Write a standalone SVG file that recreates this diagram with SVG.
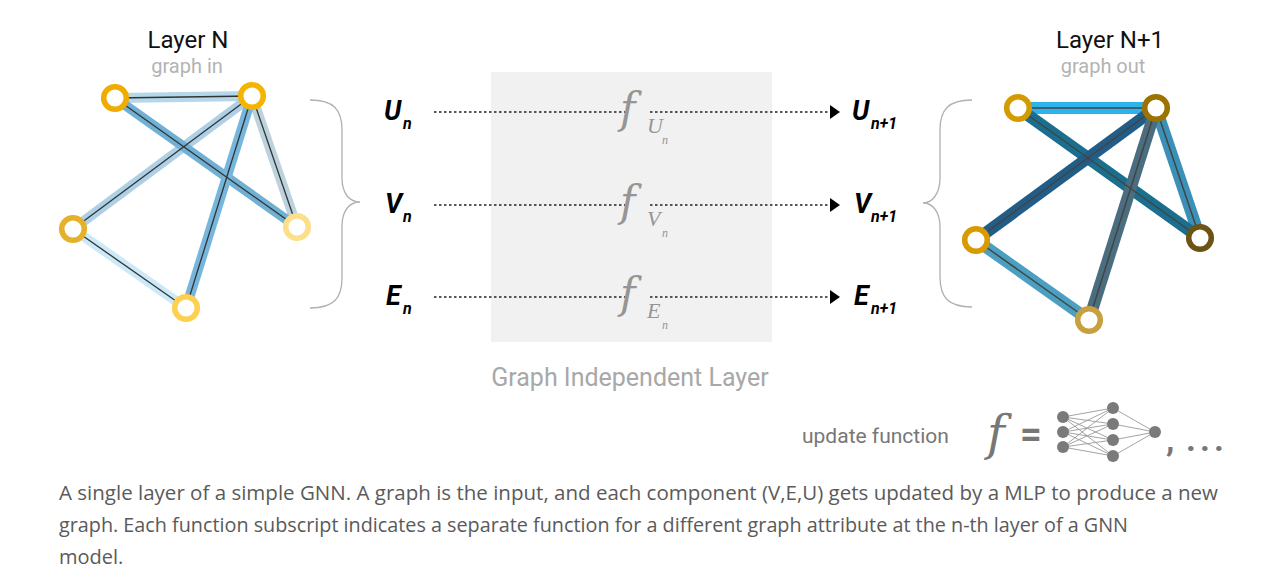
<svg xmlns="http://www.w3.org/2000/svg" width="1273" height="576" viewBox="0 0 1273 576">
<defs>
<style>
.title{font-family:Roboto,"Liberation Sans",sans-serif;font-size:24px;fill:#111}
.sub{font-family:Roboto,"Liberation Sans",sans-serif;font-size:20px;fill:#b3b3b3}
.var{font-family:Roboto,"Liberation Sans",sans-serif;font-size:27px;font-weight:bold;font-style:italic;fill:#000}
.vs{font-family:Roboto,"Liberation Sans",sans-serif;font-size:16px;font-weight:bold;font-style:italic;fill:#000}
.fn{font-family:"DejaVu Serif",serif;font-style:italic;font-size:42px;fill:#959595}
.fs{font-family:"Liberation Serif",serif;font-style:italic;font-size:22px;fill:#959595}
.fss{font-family:"Liberation Serif",serif;font-style:italic;font-size:12px;fill:#959595}
.gray{font-family:Roboto,"Liberation Sans",sans-serif;font-size:25px;fill:#a8a8a8}
.upd{font-family:Roboto,"Liberation Sans",sans-serif;font-size:21px;fill:#777}
.cap{font-family:"Open Sans","Liberation Sans",sans-serif;font-size:20px;fill:#5a5a5a}
.brace{fill:none;stroke:#b0b0b0;stroke-width:1.3}
.dot{fill:none;stroke:#222;stroke-width:1.4;stroke-dasharray:2.5 2.5}
.core{stroke:#333;stroke-width:1.3;fill:none}
.coreR{stroke:#444;stroke-width:1.5;fill:none}
.band{stroke-width:10;fill:none}
.bandR{stroke-width:12;fill:none}
.node{fill:#fff;stroke-width:5.5}
.nn{fill:#7a7a7a}
.nnl{stroke:#9a9a9a;stroke-width:0.9}
</style>
<marker id="arr" viewBox="0 0 10 14" refX="10" refY="7" markerWidth="10" markerHeight="14" markerUnits="userSpaceOnUse" orient="auto">
<path d="M0,0 L10,7 L0,14 Z" fill="#000"/>
</marker>
</defs>

<rect x="491" y="72" width="281" height="270" fill="#f1f1f1"/>

<text class="title" x="188" y="48" text-anchor="middle">Layer N</text>
<text class="sub" x="187" y="73" text-anchor="middle">graph in</text>
<text class="title" x="1110" y="48" text-anchor="middle">Layer N+1</text>
<text class="sub" x="1103" y="73" text-anchor="middle">graph out</text>

<path class="brace" d="M310,100 C334,100 342,110 342,130 L342,178 C342,194 350,202 360,202 C350,202 342,210 342,226 L342,278 C342,298 334,308 310,308"/>
<path class="brace" d="M972,100 C948,100 940,110 940,130 L940,178 C940,194 932,203 923,203 C932,203 940,211 940,227 L940,277 C940,297 948,307 972,307"/>

<g id="connectors">
<g id="left-edges">
<line class="band" x1="115" y1="98" x2="252" y2="96" stroke="#b4d8ea"/>
<line class="band" x1="252" y1="96" x2="73" y2="229" stroke="#aed0e7"/>
<line class="band" x1="252" y1="96" x2="297" y2="227" stroke="#bcd3de"/>
<line class="band" x1="73" y1="229" x2="186" y2="308" stroke="#cbe9f7"/>
<line class="band" x1="115" y1="98" x2="297" y2="227" stroke="#6fb0d4"/>
<line class="band" x1="252" y1="96" x2="186" y2="308" stroke="#76b6dc"/>
<line class="core" x1="115" y1="98" x2="252" y2="96"/>
<line class="core" x1="252" y1="96" x2="73" y2="229"/>
<line class="core" x1="252" y1="96" x2="297" y2="227"/>
<line class="core" x1="73" y1="229" x2="186" y2="308"/>
<line class="core" x1="115" y1="98" x2="297" y2="227"/>
<line class="core" x1="252" y1="96" x2="186" y2="308"/>
</g>
<g id="right-edges">
<line class="bandR" x1="1018" y1="108" x2="1156" y2="108" stroke="#2db3ea"/>
<line class="bandR" x1="1156" y1="108" x2="1200" y2="238" stroke="#3a90b6"/>
<line class="bandR" x1="976" y1="240" x2="1089" y2="320" stroke="#4b9fc0"/>
<line class="bandR" x1="1018" y1="108" x2="1200" y2="238" stroke="#1a6e8e"/>
<line class="bandR" x1="1156" y1="108" x2="976" y2="240" stroke="#225d88"/>
<line class="bandR" x1="1156" y1="108" x2="1089" y2="320" stroke="#4a6e80"/>
<line class="coreR" x1="1018" y1="108" x2="1156" y2="108"/>
<line class="coreR" x1="1156" y1="108" x2="1200" y2="238"/>
<line class="coreR" x1="976" y1="240" x2="1089" y2="320"/>
<line class="coreR" x1="1018" y1="108" x2="1200" y2="238"/>
<line class="coreR" x1="1156" y1="108" x2="976" y2="240"/>
<line class="coreR" x1="1156" y1="108" x2="1089" y2="320"/>
</g>
<g id="flow">
<line class="dot" x1="434" y1="112" x2="625" y2="112"/>
<line class="dot" x1="650" y1="112" x2="840" y2="112" marker-end="url(#arr)"/>
<line class="dot" x1="434" y1="205" x2="625" y2="205"/>
<line class="dot" x1="650" y1="205" x2="840" y2="205" marker-end="url(#arr)"/>
<line class="dot" x1="434" y1="297" x2="625" y2="297"/>
<line class="dot" x1="650" y1="297" x2="840" y2="297" marker-end="url(#arr)"/>
</g>
</g>

<g id="left-nodes">
<circle id="lA" class="node" cx="115" cy="98" r="11.3" stroke="#f0ac00"/>
<circle id="lB" class="node" cx="252" cy="96" r="11.3" stroke="#f5b400"/>
<circle id="lC" class="node" cx="73" cy="229" r="11.3" stroke="#e5b02a"/>
<circle id="lD" class="node" cx="297" cy="227" r="11.3" stroke="#fddf8a"/>
<circle id="lE" class="node" cx="186" cy="308" r="11.3" stroke="#fdd050"/>
</g>
<g id="right-nodes">
<circle id="rA" class="node" cx="1018" cy="108" r="11.3" stroke="#d49a00"/>
<circle id="rB" class="node" cx="1156" cy="108" r="11.3" stroke="#9a7300"/>
<circle id="rC" class="node" cx="976" cy="240" r="11.3" stroke="#d99a00"/>
<circle id="rD" class="node" cx="1200" cy="238" r="11.3" stroke="#6b5414"/>
<circle id="rE" class="node" cx="1089" cy="320" r="11.3" stroke="#c9a040"/>
</g>

<g id="inputs">
<text class="var" x="384" y="120">U</text><text class="vs" x="403" y="129">n</text>
<text class="var" x="385" y="213">V</text><text class="vs" x="403" y="222">n</text>
<text class="var" x="386" y="305">E</text><text class="vs" x="403" y="314">n</text>
</g>
<g id="outputs">
<text class="var" x="852" y="120">U</text><text class="vs" x="871" y="129">n+1</text>
<text class="var" x="854" y="213">V</text><text class="vs" x="871" y="222">n+1</text>
<text class="var" x="854" y="305">E</text><text class="vs" x="871" y="314">n+1</text>
</g>
<g id="functions">
<text class="fn" x="620" y="123">f</text><text class="fs" x="647" y="133">U</text><text class="fss" x="662" y="144">n</text>
<text class="fn" x="620" y="216">f</text><text class="fs" x="647" y="226">V</text><text class="fss" x="662" y="237">n</text>
<text class="fn" x="620" y="308">f</text><text class="fs" x="647" y="318">E</text><text class="fss" x="662" y="329">n</text>
</g>

<text class="gray" x="630" y="386" text-anchor="middle">Graph Independent Layer</text>

<g id="update-function">
<text class="upd" x="802" y="443">update function</text>
<text class="fn" x="987" y="450" style="font-size:48px;fill:#777">f</text>
<text x="1020" y="447" style="font-family:Roboto,'Liberation Sans',sans-serif;font-size:38px;font-weight:bold;fill:#777">=</text>
<g id="mlp">
<line class="nnl" x1="1063" y1="417" x2="1113" y2="408"/><line class="nnl" x1="1063" y1="417" x2="1113" y2="424"/><line class="nnl" x1="1063" y1="417" x2="1113" y2="440"/><line class="nnl" x1="1063" y1="417" x2="1113" y2="456"/>
<line class="nnl" x1="1063" y1="432" x2="1113" y2="408"/><line class="nnl" x1="1063" y1="432" x2="1113" y2="424"/><line class="nnl" x1="1063" y1="432" x2="1113" y2="440"/><line class="nnl" x1="1063" y1="432" x2="1113" y2="456"/>
<line class="nnl" x1="1063" y1="447" x2="1113" y2="408"/><line class="nnl" x1="1063" y1="447" x2="1113" y2="424"/><line class="nnl" x1="1063" y1="447" x2="1113" y2="440"/><line class="nnl" x1="1063" y1="447" x2="1113" y2="456"/>
<line class="nnl" x1="1113" y1="408" x2="1155" y2="432"/><line class="nnl" x1="1113" y1="424" x2="1155" y2="432"/><line class="nnl" x1="1113" y1="440" x2="1155" y2="432"/><line class="nnl" x1="1113" y1="456" x2="1155" y2="432"/>
<circle class="nn" cx="1063" cy="417" r="6"/><circle class="nn" cx="1063" cy="432" r="6"/><circle class="nn" cx="1063" cy="447" r="6"/>
<circle class="nn" cx="1113" cy="408" r="6"/><circle class="nn" cx="1113" cy="424" r="6"/><circle class="nn" cx="1113" cy="440" r="6"/><circle class="nn" cx="1113" cy="456" r="6"/>
<circle class="nn" cx="1155" cy="432" r="6"/>
</g>
<text x="1166 1186 1200 1214" y="451" style="font-family:Roboto,'Liberation Sans',sans-serif;font-size:34px;font-weight:bold;fill:#777">,...</text>
</g>

<g id="caption">
<text class="cap" x="59" y="500" textLength="1159" lengthAdjust="spacingAndGlyphs">A single layer of a simple GNN. A graph is the input, and each component (V,E,U) gets updated by a MLP to produce a new</text>
<text class="cap" x="59" y="532" textLength="1069" lengthAdjust="spacingAndGlyphs">graph. Each function subscript indicates a separate function for a different graph attribute at the n-th layer of a GNN</text>
<text class="cap" x="59" y="564">model.</text>
</g>
</svg>
